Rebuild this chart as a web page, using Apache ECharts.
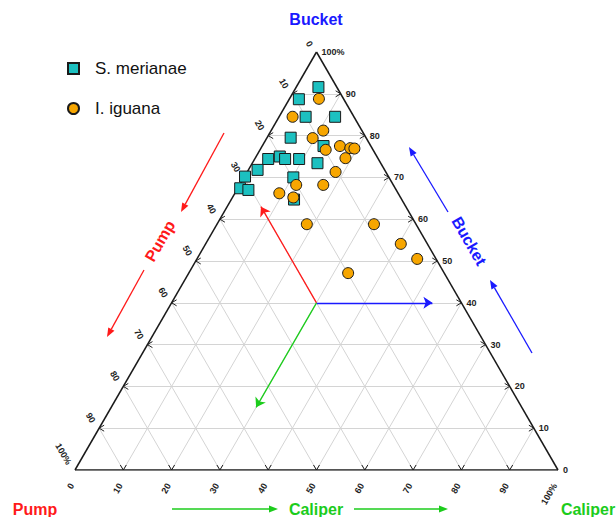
<!DOCTYPE html>
<html>
<head>
<meta charset="utf-8">
<script src="https://cdn.jsdelivr.net/npm/echarts@6/dist/echarts.min.js"></script>
<style>
  html, body { margin: 0; padding: 0; background: #ffffff; }
  #chart { width: 616px; height: 517px; }
</style>
</head>
<body>
<div id="chart"></div>
<script>
// Foraging-mode composition per sample, in percent: [pump, caliper, bucket]
const merianae = [
  [3.8, 4.6, 91.6], [9.3, 2.0, 88.7], [10.0, 5.5, 84.5], [3.9, 11.6, 84.5],
  [15.6, 4.9, 79.5], [9.8, 12.7, 77.5], [22.8, 2.8, 74.4], [20.1, 4.9, 75.0],
  [19.3, 6.3, 74.4], [16.4, 9.2, 74.4], [13.1, 13.5, 73.4], [26.3, 1.9, 71.8],
  [29.7, 0.1, 70.2], [19.8, 10.2, 70.0], [32.1, 0.5, 67.4], [30.6, 2.4, 67.0],
  [22.3, 13.0, 64.7]
];
const iguana = [
  [5.1, 6.1, 88.8], [12.7, 2.8, 84.5], [8.0, 10.8, 81.2], [11.1, 9.5, 79.4],
  [9.8, 13.6, 76.6], [6.4, 16.1, 77.5], [4.5, 18.5, 77.0], [3.7, 19.4, 76.9],
  [6.7, 18.7, 74.6], [10.4, 18.3, 71.3], [20.1, 11.7, 68.2], [14.5, 17.3, 68.2],
  [24.6, 9.2, 66.2], [22.2, 12.6, 65.2], [22.6, 18.6, 58.8], [8.7, 32.5, 58.8],
  [5.5, 40.4, 54.1], [3.9, 45.6, 50.5], [19.9, 33.0, 47.1]
];
const speciesNames = ['S. merianae', 'I. iguana'];

// Scale ticks shared by the three sides
const tickValues = [0, 10, 20, 30, 40, 50, 60, 70, 80, 90, 100];
const tickLabels = ['0', '10', '20', '30', '40', '50', '60', '70', '80', '90', '100%'];

// Reading guide from the triangle interior: [pump, caliper, bucket]
const guideOrigin = [30, 30, 40];
const guidePump = [30, 7, 63];
const guideBucket = [6, 54, 40];
const guideCaliper = [55, 30, 15];

const H = Math.sqrt(3) / 2;
// Barycentric -> planar: pump at (0,0), caliper at (1,0), bucket at (0.5, H)
function toXY(p, c, b) {
  const s = p + c + b;
  const cc = c / s, bb = b / s;
  return [cc + bb / 2, bb * H];
}
const seg = (a, b) => ({ coords: [toXY(...a), toXY(...b)] });

// Light 10% grid in the three directions
const gridSegs = [];
for (let k = 10; k < 100; k += 10) {
  gridSegs.push(seg([100 - k, 0, k], [0, 100 - k, k]));   // bucket constant
  gridSegs.push(seg([100 - k, k, 0], [0, k, 100 - k]));   // caliper constant
  gridSegs.push(seg([k, 100 - k, 0], [k, 0, 100 - k]));   // pump constant
}
const outline = [
  seg([100, 0, 0], [0, 100, 0]),
  seg([0, 100, 0], [0, 0, 100]),
  seg([0, 0, 100], [100, 0, 0])
];

const FONT = '"Liberation Sans", Arial, Helvetica, sans-serif';
const BLUE = '#1a1aff', RED = '#ff1a1a', GREEN = '#1ccc1c';

function arrow(x1, y1, x2, y2, color) {
  const ang = Math.atan2(y2 - y1, x2 - x1);
  const L = 9, W = 3.5;
  const bx = x2 - L * Math.cos(ang), by = y2 - L * Math.sin(ang);
  const px = -Math.sin(ang) * W, py = Math.cos(ang) * W;
  return {
    type: 'group', silent: true,
    children: [
      { type: 'line', shape: { x1: x1, y1: y1, x2: bx, y2: by }, style: { stroke: color, lineWidth: 1.3 } },
      { type: 'polygon', shape: { points: [[x2, y2], [bx + px, by + py], [bx - px, by - py]] }, style: { fill: color } }
    ]
  };
}
function label(text, x, y, color, rotation) {
  return {
    type: 'text', x: x, y: y, rotation: rotation || 0, silent: true,
    style: { text: text, fill: color, font: 'bold 16px ' + FONT, align: 'center', verticalAlign: 'middle' }
  };
}

const chart = echarts.init(document.getElementById('chart'), null, { renderer: 'svg' });

chart.setOption({
  animation: false,
  backgroundColor: '#ffffff',
  grid: { left: 75, right: 58, top: 52, bottom: 47 },
  xAxis: { type: 'value', min: 0, max: 1, show: false },
  yAxis: { type: 'value', min: 0, max: H, show: false },
  legend: {
    orient: 'vertical', left: 67, top: 60, padding: 0,
    itemWidth: 11, itemHeight: 11, itemGap: 23,
    data: speciesNames,
    textStyle: { fontSize: 17, fontFamily: FONT, color: '#111', padding: [0, 0, 0, 11] }
  },
  graphic: [
    label('Bucket', 316, 19, BLUE),
    label('Pump', 35, 509, RED),
    label('Caliper', 316, 509, GREEN),
    label('Caliper', 588, 509, GREEN),
    label('Pump', 160, 241, RED, Math.PI / 3),
    label('Bucket', 469, 241, BLUE, -Math.PI / 3),
    arrow(224, 133, 181, 212, RED),
    arrow(144, 270, 107, 337, RED),
    arrow(448, 212, 409, 147, BLUE),
    arrow(532, 353, 490, 280, BLUE),
    arrow(172, 509, 278, 509, GREEN),
    arrow(354, 509, 448, 509, GREEN)
  ],
  series: [
    {
      type: 'lines', coordinateSystem: 'cartesian2d', silent: true, z: 1,
      data: gridSegs,
      lineStyle: { color: '#d4d4d4', width: 1, opacity: 1 }
    },
    {
      type: 'lines', coordinateSystem: 'cartesian2d', silent: true, z: 2,
      data: outline,
      lineStyle: { color: '#1a1a1a', width: 1.5, opacity: 1 }
    },
    {
      type: 'lines', coordinateSystem: 'cartesian2d', silent: true, z: 3,
      symbol: ['none', 'arrow'], symbolSize: 9,
      data: [
        Object.assign(seg(guideOrigin, guidePump), { lineStyle: { color: RED } }),
        Object.assign(seg(guideOrigin, guideBucket), { lineStyle: { color: BLUE } }),
        Object.assign(seg(guideOrigin, guideCaliper), { lineStyle: { color: GREEN } })
      ],
      lineStyle: { width: 1.3, opacity: 1 }
    },
    {
      // tick arrowheads and scale numbers on the three sides
      type: 'custom', coordinateSystem: 'cartesian2d', silent: true, clip: false, z: 4,
      data: tickValues.map(v => [v / 100, 0]),
      renderItem: function (params, api) {
        const v = tickValues[params.dataIndex];
        const txt = tickLabels[params.dataIndex];
        const r = api.coord(toXY(0, 100 - v, v));   // bucket, right side
        const l = api.coord(toXY(v, 0, 100 - v));   // pump, left side
        const b = api.coord(toXY(100 - v, v, 0));   // caliper, base
        const tf = 'bold 9px ' + FONT;
        const ink = '#1e1e1e';
        const chev = pts => ({ type: 'polyline', shape: { points: pts }, style: { stroke: ink, fill: null, lineWidth: 1 } });
        const kids = [];
        if (v > 0 && v < 100) {
          kids.push(chev([[r[0] - 5, r[1] - 3], [r[0], r[1]], [r[0] - 5, r[1] + 3]]));
          kids.push(chev([[l[0] + 5, l[1] - 3], [l[0], l[1]], [l[0] + 5, l[1] + 3]]));
          kids.push(chev([[b[0] - 3, b[1] - 5], [b[0], b[1]], [b[0] + 3, b[1] - 5]]));
        }
        kids.push({ type: 'text', x: r[0] + 5, y: r[1],
          style: { text: txt, font: tf, fill: ink, align: 'left', verticalAlign: 'middle' } });
        kids.push({ type: 'text', x: l[0] - 6, y: l[1] - 6, rotation: -Math.PI / 3,
          style: { text: txt, font: tf, fill: ink, align: 'right', verticalAlign: 'middle' } });
        kids.push({ type: 'text', x: b[0] - 3, y: b[1] + 14, rotation: Math.PI / 3,
          style: { text: txt, font: tf, fill: ink, align: 'right', verticalAlign: 'middle' } });
        return { type: 'group', children: kids };
      }
    },
    {
      name: speciesNames[0], type: 'scatter', z: 5,
      symbol: 'rect', symbolSize: 11,
      data: merianae.map(d => toXY(d[0], d[1], d[2])),
      itemStyle: { color: '#1cc0c0', borderColor: '#1a1a1a', borderWidth: 1, opacity: 1 }
    },
    {
      name: speciesNames[1], type: 'scatter', z: 6,
      symbol: 'circle', symbolSize: 11,
      data: iguana.map(d => toXY(d[0], d[1], d[2])),
      itemStyle: { color: '#f7a600', borderColor: '#1a1a1a', borderWidth: 1, opacity: 1 }
    }
  ]
});
</script>
</body>
</html>
